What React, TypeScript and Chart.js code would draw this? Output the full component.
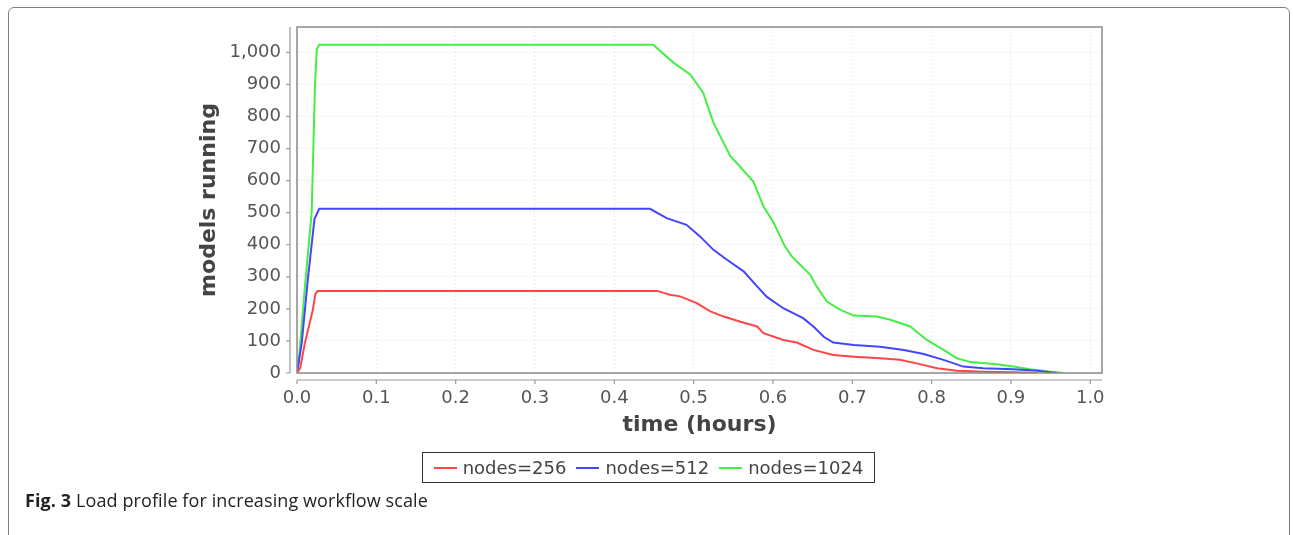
import React, { useEffect, useRef } from "react";
import { Chart, registerables } from "chart.js";

Chart.register(...registerables);

// ---- data (time in hours, models running) ----
const seriesLabels = ["nodes=256", "nodes=512", "nodes=1024"];

const redT = [0, 0.004, 0.010, 0.020, 0.023, 0.026, 0.454, 0.470, 0.483, 0.504, 0.521, 0.538, 0.559, 0.580, 0.588, 0.613, 0.630, 0.651, 0.676, 0.702, 0.735, 0.760, 0.781, 0.807, 0.832, 0.865, 0.903, 0.933];
const redV = [0, 15, 94, 197, 245, 256, 256, 244, 239, 218, 192, 176, 160, 145, 124, 103, 95, 72, 56, 51, 46, 41, 30, 15, 7, 4, 2, 0];

const blueT = [0, 0.006, 0.014, 0.022, 0.028, 0.445, 0.466, 0.491, 0.508, 0.525, 0.542, 0.563, 0.580, 0.592, 0.613, 0.638, 0.651, 0.664, 0.676, 0.702, 0.735, 0.765, 0.790, 0.815, 0.840, 0.865, 0.903, 0.933, 0.958];
const blueV = [0, 94, 300, 480, 512, 512, 483, 462, 426, 384, 353, 317, 270, 238, 202, 171, 145, 113, 95, 87, 82, 72, 59, 41, 20, 15, 12, 7, 0];

const greenT = [0, 0.002, 0.010, 0.0185, 0.0227, 0.025, 0.028, 0.449, 0.4745, 0.4956, 0.512, 0.525, 0.546, 0.575, 0.588, 0.601, 0.615, 0.624, 0.647, 0.655, 0.668, 0.685, 0.702, 0.731, 0.748, 0.773, 0.794, 0.815, 0.832, 0.849, 0.882, 0.903, 0.924, 0.950, 0.966];
const greenV = [0, 30, 270, 500, 900, 1010, 1024, 1024, 968, 931, 874, 780, 678, 598, 520, 468, 395, 363, 306, 270, 223, 197, 179, 176, 166, 145, 103, 72, 46, 34, 27, 20, 12, 4, 0];

const xTicks = [0, 0.1, 0.2, 0.3, 0.4, 0.5, 0.6, 0.7, 0.8, 0.9, 1.0];
const yTicks = [0, 100, 200, 300, 400, 500, 600, 700, 800, 900, 1000];

const colors = ["#ff4545", "#4545ff", "#45ee45"];

const zip = (t: number[], v: number[]) => t.map((x, i) => ({ x, y: v[i] }));

const framePlugin = {
  id: "frame",
  afterDraw(chart: any) {
    const { ctx, chartArea: a, scales } = chart;
    ctx.save();
    ctx.setLineDash([]);
    ctx.strokeStyle = "#8a8a8a";
    ctx.lineWidth = 1.5;
    ctx.strokeRect(a.left, a.top, a.right - a.left, a.bottom - a.top);
    const off = 7;
    ctx.strokeStyle = "#9a9a9a";
    ctx.lineWidth = 1.2;
    ctx.beginPath();
    ctx.moveTo(a.left - off, a.top);
    ctx.lineTo(a.left - off, a.bottom);
    yTicks.forEach((v) => {
      const y = scales.y.getPixelForValue(v);
      ctx.moveTo(a.left - off - 4, y);
      ctx.lineTo(a.left - off, y);
    });
    ctx.moveTo(a.left, a.bottom + off);
    ctx.lineTo(a.right, a.bottom + off);
    xTicks.forEach((v) => {
      const x = scales.x.getPixelForValue(v);
      ctx.moveTo(x, a.bottom + off);
      ctx.lineTo(x, a.bottom + off + 4);
    });
    ctx.stroke();
    ctx.restore();
  },
};

export default function App() {
  const ref = useRef<HTMLCanvasElement | null>(null);

  useEffect(() => {
    if (!ref.current) return;
    const tickFont = { family: "'DejaVu Sans'", size: 18 };
    const titleFont = { family: "'DejaVu Sans'", size: 22, weight: "bold" as const };
    const chart = new Chart(ref.current, {
      type: "line",
      data: {
        datasets: [
          { label: seriesLabels[0], data: zip(redT, redV), borderColor: colors[0] },
          { label: seriesLabels[1], data: zip(blueT, blueV), borderColor: colors[1] },
          { label: seriesLabels[2], data: zip(greenT, greenV), borderColor: colors[2] },
        ].map((d) => ({ ...d, borderWidth: 2, pointRadius: 0, tension: 0, fill: false })),
      },
      options: {
        animation: false,
        responsive: false,
        layout: { padding: { left: 180, top: 27, right: 191, bottom: 97 } },
        plugins: { legend: { display: false }, tooltip: { enabled: false } },
        scales: {
          x: {
            type: "linear",
            min: 0,
            max: 1.0148,
            afterFit: (s: any) => { s.height = 65; },
            afterBuildTicks: (s: any) => { s.ticks = xTicks.map((value) => ({ value })); },
            ticks: {
              font: tickFont,
              color: "#555",
              padding: 15,
              maxRotation: 0,
              autoSkip: false,
              callback: (v: any) => Number(v).toFixed(1),
            },
            grid: { color: "rgba(0,0,0,0.07)", drawTicks: false },
            border: { display: false, dash: [2, 2] },
            title: { display: true, text: "time (hours)", font: titleFont, color: "#444", padding: { top: 0, bottom: 0 } },
          },
          y: {
            type: "linear",
            min: 0,
            max: 1079,
            afterFit: (s: any) => { s.width = 117; },
            afterBuildTicks: (s: any) => { s.ticks = yTicks.map((value) => ({ value })); },
            ticks: {
              font: tickFont,
              color: "#555",
              padding: 16,
              autoSkip: false,
              callback: (v: any) => Number(v).toLocaleString("en-US"),
            },
            grid: { color: "rgba(0,0,0,0.07)", drawTicks: false },
            border: { display: false, dash: [2, 2] },
            title: { display: true, text: "models running", font: titleFont, color: "#444", padding: { top: 16, bottom: 0 } },
          },
        },
      },
      plugins: [framePlugin],
    });
    return () => chart.destroy();
  }, []);

  const legendItem = (i: number) => (
    <span key={i} style={{ display: "inline-flex", alignItems: "center", marginRight: i < 2 ? 10 : 0 }}>
      <span style={{ display: "inline-block", width: 23, height: 2, background: colors[i], marginRight: 6 }} />
      <span>{seriesLabels[i]}</span>
    </span>
  );

  return (
    <div style={{ position: "absolute", left: 0, top: 0, width: 1293, height: 535, overflow: "hidden", background: "#fff" }}>
      <div
        style={{
          position: "absolute",
          left: 8,
          top: 7,
          width: 1282,
          height: 600,
          border: "1.5px solid #808080",
          borderRadius: 6,
          boxSizing: "border-box",
        }}
      />
      <canvas ref={ref} width={1293} height={535} style={{ position: "absolute", left: 0, top: 0, width: 1293, height: 535 }} />
      <div
        style={{
          position: "absolute",
          left: 422,
          top: 452,
          width: 453,
          height: 31,
          boxSizing: "border-box",
          border: "1.5px solid #333",
          display: "flex",
          alignItems: "center",
          justifyContent: "center",
          fontFamily: "'DejaVu Sans'",
          fontSize: 18,
          color: "#444",
          whiteSpace: "nowrap",
        }}
      >
        {[0, 1, 2].map(legendItem)}
      </div>
      <div
        style={{
          position: "absolute",
          left: 25,
          top: 488,
          fontFamily: "'Open Sans'",
          fontSize: 18,
          letterSpacing: "0.1px",
          color: "#222",
          whiteSpace: "nowrap",
        }}
      >
        <b>Fig. 3</b> Load profile for increasing workflow scale
      </div>
    </div>
  );
}
